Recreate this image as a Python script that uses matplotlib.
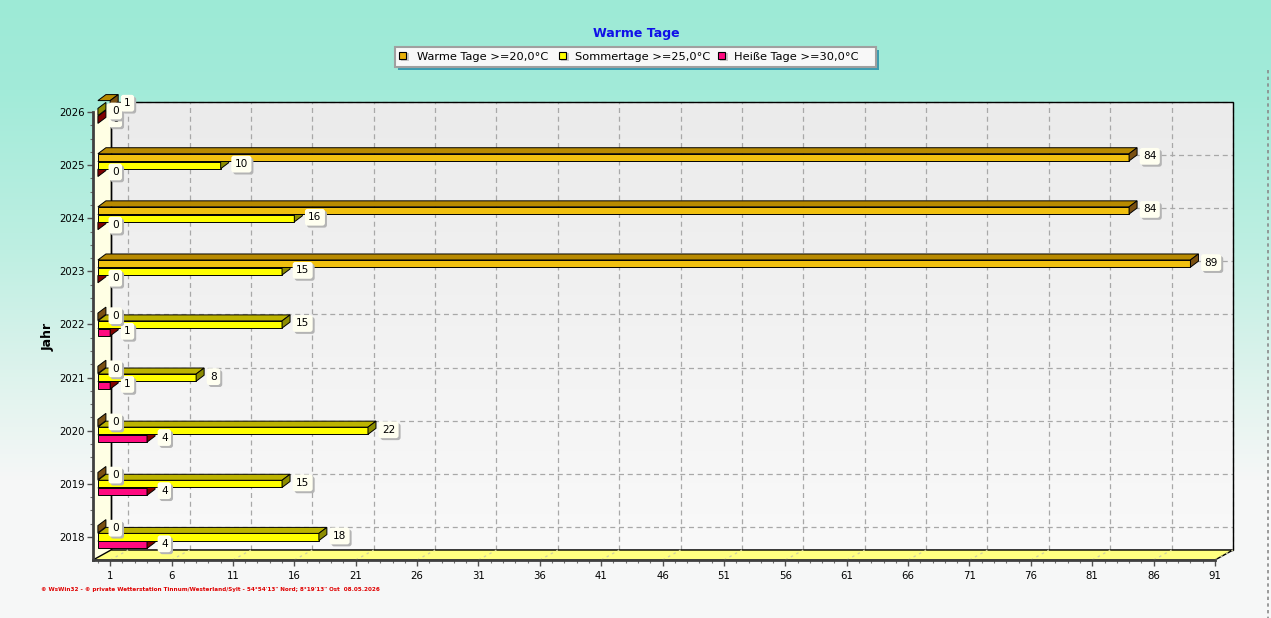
import numpy as np
from matplotlib import pyplot as plt
from matplotlib.patches import Polygon, Rectangle
from matplotlib.lines import Line2D

W, H = 1271, 618

years = ['2018', '2019', '2020', '2021', '2022', '2023', '2024', '2025', '2026']
warme_tage = [0, 0, 0, 0, 0, 89, 84, 84, 1]
sommertage = [18, 15, 22, 8, 15, 15, 16, 10, 0]
heisse_tage = [4, 4, 4, 1, 1, 0, 0, 0, 0]
series_labels = ['Warme Tage >=20,0°C', 'Sommertage >=25,0°C', 'Heiße Tage >=30,0°C']
x_ticks = list(range(1, 92, 5))

TITLE = 'Warme Tage'
Y_LABEL = 'Jahr'
FOOTER = '© WsWin32 - © private Wetterstation Tinnum/Westerland/Sylt - 54°54\'13" Nord; 8°19\'13" Ost  08.05.2026'

# front plane of the plot in pixels
AX_L, AX_R, AX_T, AX_B = 93, 1215, 112, 560
XMIN, XMAX = -0.4, 91.0
YMIN, YMAX = -0.433, 8.0
PX_X = (AX_R - AX_L) / (XMAX - XMIN)
PX_Y = (AX_B - AX_T) / (YMAX - YMIN)

# depth of the chart walls and of the bars (pixels -> data)
DXW, DYW = 18 / PX_X, 10 / PX_Y
DXB, DYB = 8 / PX_X, 6 / PX_Y
BAR_H = 7.2 / PX_Y
BAR_OFF = 7.8 / PX_Y

# front, top, side colours
STYLES = [
    ('#F0C010', '#B88A00', '#7A5012'),   # Warme Tage
    ('#FFFF00', '#BDB400', '#8C8C00'),   # Sommertage
    ('#FF0A80', '#A00040', '#800000'),   # Heisse Tage
]
LEGEND_MARK = ['#E8B00A', '#FFFF00', '#FF0A80']


def fx(px):
    return px / W


def fy(py):
    return 1 - py / H


def background(fig):
    bg = fig.add_axes([0, 0, 1, 1], zorder=-5)
    rows = np.arange(H)
    stops = [0, 90, 250, 400, 480, H]
    cols = np.array([[157, 234, 214], [162, 235, 217], [190, 239, 226],
                     [228, 244, 239], [246, 247, 247], [247, 247, 247]]) / 255
    img = np.stack([np.interp(rows, stops, cols[:, c]) for c in range(3)], axis=1)
    bg.imshow(img[:, None, :], aspect='auto', extent=[0, 1, 0, 1])
    bg.axis('off')
    # dashed separator at the right border
    fig.add_artist(Line2D([fx(1268), fx(1268)], [fy(70), fy(618)], color='#8A8A8A',
                          lw=1.2, ls=(0, (2, 2)), transform=fig.transFigure))


def back_wall(fig):
    wall = fig.add_axes([fx(AX_L + 18), fy(AX_B - 10), fx(AX_R - AX_L), (AX_B - AX_T) / H], zorder=-1)
    grad = np.linspace(235, 249, 100)[:, None, None] * np.ones((1, 1, 3)) / 255
    wall.imshow(grad, aspect='auto', extent=[0, 1, 0, 1])
    wall.axis('off')


def draw_bar(ax, y, v, style, z):
    front, top, side = style
    y0, y1 = y - BAR_H / 2, y + BAR_H / 2
    if v > 0:
        ax.barh(y, v, height=BAR_H, left=0, color=front, edgecolor='black', linewidth=0.7, zorder=z)
        ax.add_patch(Polygon([(0, y1), (v, y1), (v + DXB, y1 + DYB), (DXB, y1 + DYB)], closed=True,
                             fc=top, ec='black', lw=0.7, zorder=z, clip_on=False))
    ax.add_patch(Polygon([(v, y0), (v, y1), (v + DXB, y1 + DYB), (v + DXB, y0 + DYB)], closed=True,
                         fc=side, ec='black', lw=0.7, zorder=z, clip_on=False))


def value_label(ax, x, y, text, z):
    for dx, dy, fc, tc, zz in [(2, -2, '#B4B4B4', 'none', z), (0, 0, '#FFFFF0', 'black', z + 0.1)]:
        ax.annotate(text, (x, y), xytext=(6 + dx, 1 + dy), textcoords='offset pixels',
                    ha='left', va='center', fontsize=7.6, color=tc, zorder=zz, annotation_clip=False,
                    bbox=dict(boxstyle='round,pad=0.32,rounding_size=0.25', fc=fc, ec='none'))


def legend(fig):
    x0, x1, y0, y1 = 395, 876, 47, 67
    fig.add_artist(Rectangle((fx(x0 + 3), fy(y1 + 3)), fx(x1 - x0), (y1 - y0) / H,
                             transform=fig.transFigure, fc='#3C9CB0', ec='none'))
    fig.add_artist(Rectangle((fx(x0), fy(y1)), fx(x1 - x0), (y1 - y0) / H,
                             transform=fig.transFigure, fc='#F8F8F8', ec='#A0A0A0', lw=1.5))
    positions = [(403, 417), (563, 575), (722, 734)]
    for (mx, tx), col, lab in zip(positions, LEGEND_MARK, series_labels):
        fig.add_artist(Rectangle((fx(mx - 2), fy(61)), fx(8), 8 / H, transform=fig.transFigure,
                                 fc='#C8C8C8', ec='none'))
        fig.add_artist(Rectangle((fx(mx - 4), fy(59)), fx(7), 7 / H, transform=fig.transFigure,
                                 fc=col, ec='black', lw=0.8))
        fig.text(fx(tx), fy(56.5), lab, fontsize=8.2, va='center', ha='left', color='black')


def main():
    fig = plt.figure(figsize=(W / 100, H / 100), dpi=100)
    background(fig)
    back_wall(fig)

    ax = fig.add_axes([fx(AX_L), fy(AX_B), fx(AX_R - AX_L), (AX_B - AX_T) / H], zorder=1)
    ax.set_facecolor('none')

    # grid on the back wall
    for t in x_ticks:
        ax.plot([t + DXW, t + DXW], [YMIN + DYW, YMAX + DYW], color='#A8A8A8', lw=0.9,
                ls=(0, (4, 3)), zorder=1, clip_on=False)
    for i in range(len(years)):
        ax.plot([XMIN + DXW, XMAX + DXW], [i + DYW, i + DYW], color='#A8A8A8', lw=0.9,
                ls=(0, (4, 3)), zorder=1, clip_on=False)
    ax.add_patch(Rectangle((XMIN + DXW, YMIN + DYW), XMAX - XMIN, YMAX - YMIN, fill=False,
                           ec='black', lw=1, zorder=1.5, clip_on=False))

    # left wall and floor
    ax.add_patch(Polygon([(XMIN, YMIN), (XMIN, YMAX), (XMIN + DXW, YMAX + DYW), (XMIN + DXW, YMIN + DYW)],
                         closed=True, fc='#FFFFE4', ec='none', zorder=1.2, clip_on=False))
    ax.plot([XMIN + DXW, XMIN + DXW], [YMIN + DYW, YMAX + DYW], color='black', lw=1, zorder=1.6, clip_on=False)
    ax.add_patch(Polygon([(XMIN, YMIN), (XMAX, YMIN), (XMAX + DXW, YMIN + DYW), (XMIN + DXW, YMIN + DYW)],
                         closed=True, fc='#FFFF80', ec='black', lw=1, zorder=2, clip_on=False))
    for t in x_ticks:
        ax.plot([t, t + DXW], [YMIN, YMIN + DYW], color='#D0D0A0', lw=0.9,
                ls=(0, (2, 3)), zorder=2.2, clip_on=False)

    # bars: lowest series first so the one above hides its top face
    series = [warme_tage, sommertage, heisse_tage]
    offsets = [BAR_OFF, 0, -BAR_OFF]
    for k in [2, 1, 0]:
        for i, v in enumerate(series[k]):
            draw_bar(ax, i + offsets[k], v, STYLES[k], 3 + (2 - k))

    for k in [2, 1, 0]:
        for i, v in enumerate(series[k]):
            value_label(ax, v + DXB, i + offsets[k], str(v), 10 + 0.3 * (2 - k))

    ax.set_xlim(XMIN, XMAX)
    ax.set_ylim(YMIN, YMAX)
    ax.set_xticks(x_ticks)
    ax.set_xticks(range(0, 92), minor=True)
    ax.set_yticks(range(len(years)))
    ax.set_yticklabels(years)
    ax.set_yticks(np.arange(0, 8.01, 0.25), minor=True)
    for s in ['top', 'right']:
        ax.spines[s].set_visible(False)
    for s in ['left', 'bottom']:
        ax.spines[s].set_color('#404040')
        ax.spines[s].set_linewidth(2)
        ax.spines[s].set_zorder(2.5)
    ax.tick_params(axis='both', which='major', labelsize=7.3, colors='#505050', labelcolor='black',
                   length=4, width=1)
    ax.tick_params(axis='x', which='major', pad=4)
    ax.tick_params(axis='y', which='major', pad=2)
    ax.tick_params(axis='both', which='minor', length=2, width=0.8, colors='#707070')

    fig.text(fx(636), fy(34), TITLE, fontsize=9, fontweight='bold', color='#1010E8',
             ha='center', va='center')
    legend(fig)
    fig.text(fx(48), fy(337), Y_LABEL, fontsize=9, fontweight='bold', rotation=90,
             ha='center', va='center')
    fig.text(fx(41), fy(589), FOOTER, fontsize=4.1, fontweight='bold', color='#E00000',
             ha='left', va='center')

    plt.savefig('out.png', dpi=100)


if __name__ == '__main__':
    main()
